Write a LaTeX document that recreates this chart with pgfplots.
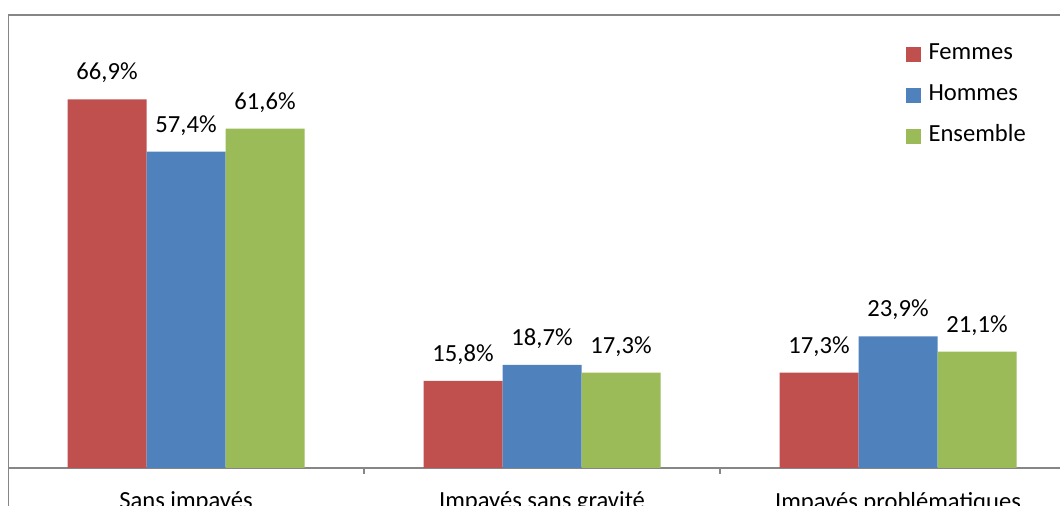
\documentclass[border=0pt]{standalone}
\usepackage{pgfplots}
\pgfplotsset{compat=1.18}
\usepackage{fontspec}
\setmainfont{Carlito}
\definecolor{cF}{RGB}{192,80,77}
\definecolor{cH}{RGB}{79,129,189}
\definecolor{cE}{RGB}{155,187,89}
\definecolor{bord}{RGB}{134,134,134}
\begin{document}
\begin{tikzpicture}[x=1pt,y=1pt]
\useasboundingbox (0,0) rectangle (530,253);
\clip (0,0) rectangle (530,253);
\draw[bord, line width=0.6pt] (4.35,245.5) rectangle (545,-10);
\begin{axis}[
  at={(4pt,19pt)}, anchor=south west,
  scale only axis, width=534pt, height=220.4pt,
  xmin=-0.5, xmax=2.5, ymin=0, ymax=80,
  ybar=0pt, bar width=39.5pt,
  axis x line=bottom, axis y line=none,
  x axis line style={-, draw=bord, line width=0.6pt},
  xtick={0,1,2},
  xticklabels={Sans impayés, Impayés sans gravité, Impayés problématiques},
  major tick length=0pt,
  extra x ticks={0.5,1.5}, extra x tick labels={},
  extra x tick style={tick align=outside, major tick length=3pt, tick style={draw=bord, line width=0.6pt}},
  xticklabel style={font=\fontsize{12.3}{14}\selectfont, yshift=-8.5pt},
  nodes near coords={\pgfmathprintnumber[use comma, fixed, precision=1, fixed zerofill, assume math mode=true]{\pgfplotspointmeta}\%},
  nodes near coords style={anchor=south, inner sep=0pt, yshift=8pt, font=\fontsize{12.3}{14}\selectfont, text=black},
  legend style={at={(axis description cs:0.84,0.961)}, anchor=north west, draw=none, fill=none, inner sep=0pt, row sep=11pt, font=\fontsize{12.3}{14}\selectfont, nodes={inner sep=0pt, text height=7.5pt, text depth=2pt}},
  legend cell align=left,
  legend image code/.code={\fill[#1] (0pt,-3.75pt) rectangle (7.5pt,3.75pt);},
  every axis plot/.append style={draw=none},
]
\addplot[fill=cF] coordinates {(0,66.9) (1,15.8) (2,17.3)};
\addplot[fill=cH] coordinates {(0,57.4) (1,18.7) (2,23.9)};
\addplot[fill=cE] coordinates {(0,61.6) (1,17.3) (2,21.1)};
\legend{\hspace{4pt}Femmes, \hspace{4pt}Hommes, \hspace{4pt}Ensemble}
\end{axis}
\end{tikzpicture}
\end{document}
